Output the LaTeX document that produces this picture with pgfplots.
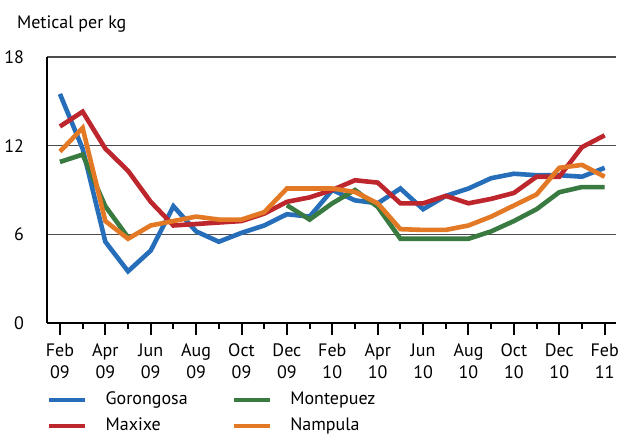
\documentclass[border=0pt]{standalone}
\usepackage{fontspec}
\setmainfont{PT Sans}
\usepackage{pgfplots}
\pgfplotsset{compat=1.18}

\definecolor{cblue}{RGB}{38,110,185}
\definecolor{cred}{RGB}{190,38,46}
\definecolor{cgreen}{RGB}{56,122,64}
\definecolor{corange}{RGB}{227,121,37}

\begin{document}
\begin{tikzpicture}
\path[use as bounding box] (0,0) rectangle (310pt,218pt);
\begin{axis}[
    at={(23.5pt,56.5pt)}, anchor=south west,
    scale only axis,
    width=284.5pt, height=133pt,
    xmin=-0.57, xmax=24.5,
    ymin=0, ymax=18,
    axis x line*=bottom, axis y line*=left,
    axis line style={black, line width=1pt},
    xtick={0,2,...,24},
    minor xtick={1,3,...,23},
    xticklabels={{Feb\\09},{Apr\\09},{Jun\\09},{Aug\\09},{Oct\\09},{Dec\\09},{Feb\\10},{Apr\\10},{Jun\\10},{Aug\\10},{Oct\\10},{Dec\\10},{Feb\\11}},
    xticklabel style={align=center, font=\fontsize{9}{11}\selectfont, yshift=-1pt},
    tick align=outside,
    xtick pos=bottom,
    major tick length=6pt, minor tick length=3pt,
    tick style={black, line width=1pt},
    ytick={0,6,12,18},
    ymajorgrids,
    major grid style={black!70, line width=0.6pt},
    ytick style={draw=none},
    yticklabel style={font=\fontsize{9}{11}\selectfont, xshift=-2pt},
    /pgf/number format/assume math mode=true,
    unbounded coords=jump,
    clip=false,
    legend columns=2,
    transpose legend,
    legend cell align=left,
    legend style={at={(0,-0.245)}, anchor=north west, draw=none, fill=none,
        inner sep=0pt, outer sep=0pt,
        font=\fontsize{9}{11}\selectfont, row sep=1pt,
        /tikz/every odd column/.style={column sep=7pt},
        /tikz/column 2/.style={column sep=20pt}},
    legend image code/.code={\draw[#1, line width=2.3pt] (0pt,0pt) -- (18pt,0pt);},
    every axis plot/.append style={line width=2.3pt, line join=miter, mark=none},
]
% Gorongosa
\addplot[cblue] coordinates {
(0,15.5) (1,11.8) (2,5.5) (3,3.5) (4,4.9) (5,7.9) (6,6.2) (7,5.5) (8,6.1) (9,6.6)
(10,7.36) (11,7.2) (12,9.0) (13,8.3) (14,8.1) (15,9.1) (16,7.7) (17,8.6) (18,9.1)
(19,9.8) (20,10.1) (21,10.0) (22,10.0) (23,9.9) (24,10.5)
};
\addlegendentry{Gorongosa}
% Maxixe
\addplot[cred] coordinates {
(0,13.3) (1,14.3) (2,11.8) (3,10.3) (4,8.2) (5,6.6) (6,6.7) (7,6.8) (8,6.9) (9,7.4)
(10,8.2) (11,8.5) (12,9.0) (13,9.66) (14,9.5) (15,8.1) (16,8.1) (17,8.6) (18,8.1)
(19,8.4) (20,8.8) (21,9.9) (22,9.9) (23,11.9) (24,12.7)
};
\addlegendentry{Maxixe}
% Montepuez
\addplot[cgreen] coordinates {
(0,10.9) (1,11.4) (2,7.9) (3,5.8) (4,nan) (9,nan)
(10,7.97) (11,7.0) (12,8.1) (13,9.0) (14,7.86) (15,5.7) (16,5.7) (17,5.7) (18,5.7)
(19,6.2) (20,6.9) (21,7.7) (22,8.85) (23,9.2) (24,9.2)
};
\addlegendentry{Montepuez}
% Nampula
\addplot[corange] coordinates {
(0,11.6) (1,13.2) (2,6.9) (3,5.7) (4,6.6) (5,6.9) (6,7.2) (7,7.0) (8,7.0) (9,7.5)
(10,9.1) (11,9.1) (12,9.1) (13,8.87) (14,8.1) (15,6.35) (16,6.3) (17,6.3) (18,6.6)
(19,7.2) (20,7.95) (21,8.7) (22,10.5) (23,10.7) (24,9.9)
};
\addlegendentry{Nampula}
\end{axis}
\node[anchor=base west, font=\fontsize{9}{11}\selectfont] at (5pt,204pt) {Metical per kg};
\end{tikzpicture}
\end{document}
